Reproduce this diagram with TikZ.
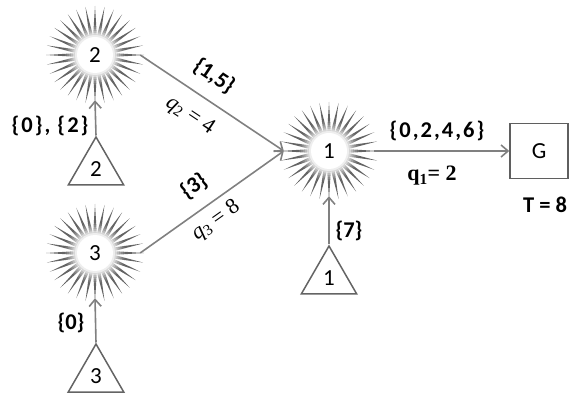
\documentclass[tikz,border=0pt]{standalone}
\usepackage{fontspec}
\setmainfont{Carlito}
\newfontfamily\lserif{Liberation Serif}
\usetikzlibrary{arrows.meta,shapes.geometric}
\definecolor{burstgray}{RGB}{100,100,100}
\definecolor{linegray}{RGB}{128,128,128}
\definecolor{boxgray}{RGB}{95,95,95}
\newcommand{\burstat}[1]{%
  \fill[burstgray, shift={#1}] (0:49) \foreach \i in {1,...,63}{ -- ({\i*5.625}:{ifthenelse(mod(\i,2)==0,49,19)}) } -- cycle;
  \foreach \r/\o in {30/0.12, 28/0.15, 26/0.2, 24/0.28, 22/0.4, 20/0.6, 18/1}{\fill[white, fill opacity=\o, shift={#1}] (0,0) circle (\r);}
}
\tikzset{
  starnode/.style={circle, minimum size=90pt, inner sep=0pt, font=\fontsize{23}{26}\selectfont},
  trinode/.style={regular polygon, regular polygon sides=3, minimum size=64pt, inner sep=0pt, draw=burstgray, line width=1.5pt, font=\fontsize{23}{26}\selectfont},
  goalbox/.style={rectangle, minimum width=58pt, minimum height=55pt, draw=boxgray, line width=1.5pt, font=\fontsize{23}{26}\selectfont},
  conn/.style={draw=linegray, line width=1.6pt, -{Straight Barb[length=7pt,width=12pt]}},
  lbl/.style={font=\bfseries\fontsize{22.5}{26}\selectfont, inner sep=0pt},
  widelbl/.style={font=\bfseries\fontsize{22.5}{26}\selectfont\addfontfeature{LetterSpace=9}, inner sep=0pt},
  mlbl/.style={font=\lserif\fontsize{22}{26}\selectfont, inner sep=0pt},
}
\begin{document}
\begin{tikzpicture}[x=1pt,y=1pt]
\useasboundingbox (0,0) rectangle (570,399);
% starbursts
\burstat{(95,344)}
\burstat{(95,146)}
\burstat{(329,248)}
% nodes
\node[starnode] (s2) at (95,344) {2};
\node[starnode] (s3) at (95,146) {3};
\node[starnode] (s1) at (329,248) {1};
\node[trinode] (t2) at (96,230) {2};
\node[trinode] (t3) at (96,23) {3};
\node[trinode] (t1) at (329,121) {1};
\node[goalbox] (g) at (539,248) {G};
% connectors
\draw[conn] (t2.corner 1) -- (s2.south);
\draw[conn] (t3.corner 1) -- (s3.south);
\draw[conn] (t1.corner 1) -- (s1.south);
\draw[conn] (s2.east) -- (s1.west);
\draw[conn] (s3.east) -- (s1.west);
\draw[conn] (s1.east) -- (g.west);
% labels
\node[widelbl] (l02) at (50,273) {\{0\}, \{2\}};
\node[lbl] (l0) at (71,76) {\{0\}};
\node[lbl] (l7) at (349,168) {\{7\}};
\node[widelbl] (l0246) at (437,268) {\{0,2,4,6\}};
\node[mlbl] (q1) at (432,223) {\bfseries q\textsubscript{1}= 2};
\node[lbl] (tt) at (545,194) {T = 8};
\node[lbl, rotate=-33.7] (l15) at (214,323) {\{1,5\}};
\node[mlbl, rotate=-33.7] (q2) at (190,283) {\itshape q\textsubscript{\upshape 2} {\upshape = 4}};
\node[lbl, rotate=35.3] (l3) at (194,213) {\{3\}};
\node[mlbl, rotate=35.3] (q3) at (216,178) {\itshape q\textsubscript{\upshape 3} {\upshape = 8}};
\end{tikzpicture}
\end{document}
